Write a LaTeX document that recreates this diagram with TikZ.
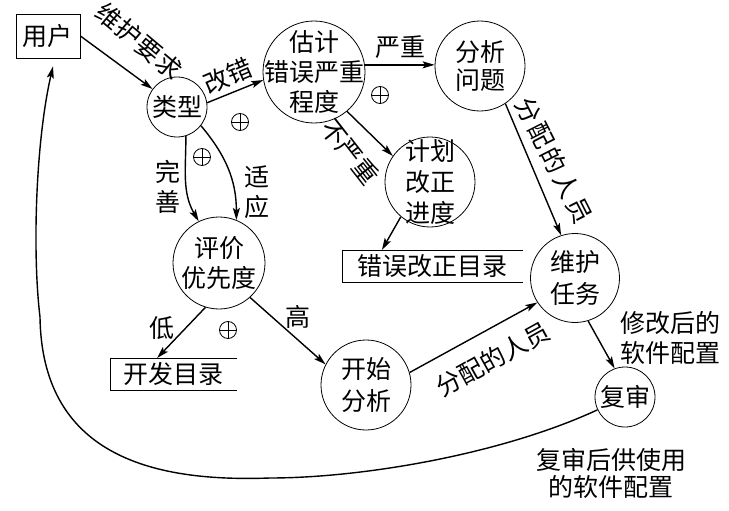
\documentclass[tikz,border=0pt]{standalone}
\usepackage{fontspec}
\newfontfamily\cjk{Noto Sans CJK SC}
\usetikzlibrary{arrows.meta,calc}
\begin{document}
\begin{tikzpicture}[x=1pt,y=-1pt,
  every node/.style={font=\cjk\fontsize{25}{30}\selectfont},
  proc/.style={circle,draw,line width=0.8pt,inner sep=0pt},
  arr/.style={line width=1.4pt,-{Stealth[length=12pt,width=7pt,inset=2.5pt]}},
  lbl/.style={inner sep=0pt,align=center},
  oplus/.style={circle,draw,line width=0.8pt,minimum size=17pt,inner sep=0pt,
    path picture={\draw[line width=0.8pt] (path picture bounding box.north) -- (path picture bounding box.south)
      (path picture bounding box.east) -- (path picture bounding box.west);}},
  store/.style={inner sep=0pt,minimum height=32pt}]
\useasboundingbox (0,0) rectangle (729,511);

% nodes
\node[draw,line width=0.8pt,minimum width=64pt,minimum height=44pt,inner sep=0pt] (user) at (48,36) {用户};
\node[proc,minimum size=60pt,label={[lbl]center:类型}] (type) at (177,107) {};
\node[proc,minimum size=102pt,label={[lbl]center:{估计\\错误严重\\程度}}] (est) at (314,72) {};
\node[proc,minimum size=90pt,label={[lbl,font=\cjk\fontsize{25}{28}\selectfont]center:{分析\\问题}}] (ana) at (480,66) {};
\node[proc,minimum size=90pt,label={[lbl,font=\cjk\fontsize{25}{31}\selectfont]center:{计划\\改正\\进度}}] (plan) at (430,182) {};
\node[proc,minimum size=92pt,label={[lbl]center:{评价\\优先度}}] (eval) at (219,263) {};
\node[proc,minimum size=90pt,label={[lbl,font=\cjk\fontsize{25}{32}\selectfont]center:{开始\\分析}}] (start) at (366,385) {};
\node[proc,minimum size=89pt,label={[lbl,font=\cjk\fontsize{25}{32}\selectfont]center:{维护\\任务}}] (task) at (575,278) {};
\node[proc,minimum size=60pt,label={[lbl]center:复审}] (review) at (625,397) {};

\node[store,minimum width=181pt,anchor=north west] (errdir) at (342,250) {错误改正目录};
\draw[line width=0.8pt] (errdir.north east) -- (errdir.north west) -- (errdir.south west) -- (errdir.south east);
\node[store,minimum width=127pt,anchor=north west] (devdir) at (110,358) {开发目录};
\draw[line width=0.8pt] (devdir.north east) -- (devdir.north west) -- (devdir.south west) -- (devdir.south east);

% operators
\node[oplus] (o1) at (240,122) {};
\node[oplus] (o2) at (202,157) {};
\node[oplus] (o3) at (380,95) {};
\node[oplus] (o4) at (228,330) {};

% labels
\node[lbl,rotate=-40] (l1) at (139,41) {维\hspace{1pt}护\hspace{1pt}要\hspace{1pt}求};
\node[lbl,rotate=23] (l2) at (228,76) {改错};
\node[lbl] (l3) at (400,47) {严重};
\node[lbl,rotate=-52] (l4) at (350,152) {不严重};
\node[lbl,rotate=-63] (l5) at (554,160) {分\hspace{3pt}配\hspace{3pt}的\hspace{3pt}人\hspace{3pt}员};
\node[lbl] (l6) at (168,187) {完\\善};
\node[lbl] (l7) at (257,192) {适\\应};
\node[lbl] (l8) at (162,328) {低};
\node[lbl] (l9) at (298,317) {高};
\node[lbl,rotate=29] (l10) at (493,359) {分配的人员};
\node[lbl] (l11) at (670,338) {修改后的\\软件配置};
\node[lbl,font=\cjk\fontsize{25}{27}\selectfont] (l12) at (611,473) {复审后供使用\\的软件配置};

% connectors
\draw[arr] (user.east) -- (type);
\draw[arr] (type.8) -- (est.189);
\draw[arr] (est.8) -- (ana.west |- est.8);
\draw[arr] (est.-50) -- (plan.145);
\draw[arr] (ana.-56) -- (task.108);
\draw[arr] (type.-73) to[out=-90,in=120] (eval.116);
\draw[arr] (type.-38) to[out=-50,in=90] (eval.68);
\draw[arr] (plan.-130) -- ($(errdir.north west)!0.22!(errdir.north east)$);
\draw[arr] (eval.-107) -- ($(devdir.north west)!0.37!(devdir.north east)$);
\draw[arr] (eval.-48) -- (start.153);
\draw[arr] (start.16) -- (task.213);
\draw[arr] (task.-73) -- (review.110);
\draw[arr] (review.205) .. controls (500,455) and (360,478) .. (270,478)
  .. controls (160,482) and (42,460) .. (40,317)
  .. controls (32,250) and (36,140) .. ([xshift=5pt,yshift=-8pt]user.south);
\end{tikzpicture}
\end{document}
